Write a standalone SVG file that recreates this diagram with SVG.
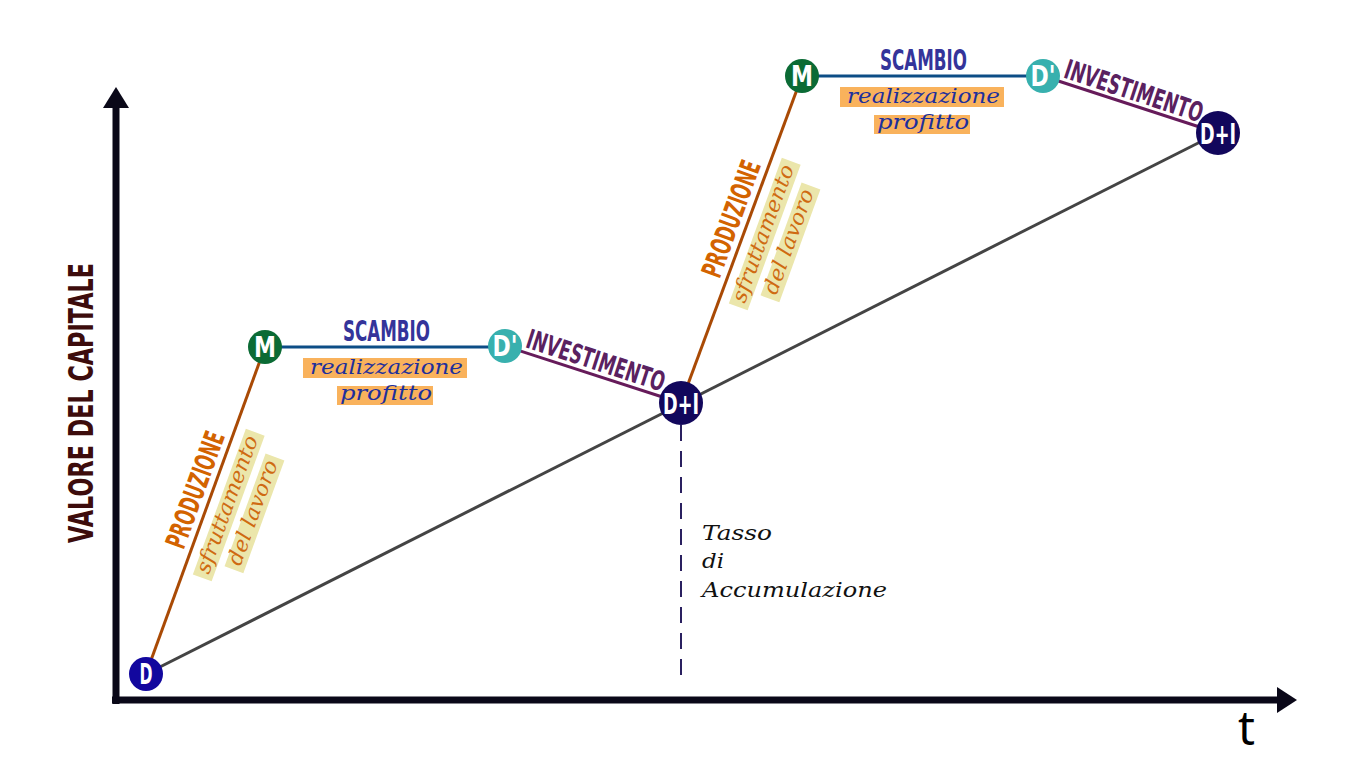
<svg xmlns="http://www.w3.org/2000/svg" width="1366" height="768" viewBox="0 0 1366 768">
<style>
.cond{font-family:"DejaVu Sans","Liberation Sans",sans-serif;font-weight:bold;}
.ital{font-family:"DejaVu Serif","Liberation Serif",serif;font-style:italic;}
.nlab{fill:#fff;font-size:28px;}
.prod{fill:#d36300;font-size:28px;}
.scam{fill:#34349a;font-size:28px;}
.inv{fill:#5a2160;font-size:27px;}
.sfr{fill:#cf6a12;font-size:21px;}
.sfrbox{fill:#ebe6ab;}
.real{fill:#1d2f9c;font-size:21px;}
.realbox{fill:#f9b25c;}
.brown{stroke:#a94a05;stroke-width:3;fill:none;}
.blue{stroke:#0c4d86;stroke-width:3;fill:none;}
.purple{stroke:#661b5a;stroke-width:3;fill:none;}
.gray{stroke:#444;stroke-width:3;fill:none;}
.axis{stroke:#0a0818;stroke-width:7;fill:none;}
</style>
<rect width="1366" height="768" fill="#fff"/>
<!-- axes -->
<g id="axes">
<line class="axis" x1="116" y1="704" x2="116" y2="105"/>
<polygon points="116,87 103,108 129,108" fill="#0a0818"/>
<line class="axis" x1="112" y1="700" x2="1279" y2="700"/>
<polygon points="1297,700 1277,687 1277,713" fill="#0a0818"/>
<text class="cond" transform="translate(93,543) rotate(-90)" x="0" y="0" font-size="34" fill="#3d0c0c" textLength="280" lengthAdjust="spacingAndGlyphs">VALORE DEL CAPITALE</text>
<text x="1238" y="745" font-family="Noto Sans, DejaVu Sans, sans-serif" font-size="47" fill="#000">t</text>
</g>
<!-- connectors -->
<g id="connectors">
<line class="gray" x1="146" y1="674" x2="1218" y2="133"/>
<line class="brown" x1="146" y1="674" x2="265" y2="347"/>
<line class="blue" x1="265" y1="347" x2="505" y2="347"/>
<line class="purple" x1="505" y1="346" x2="681" y2="403"/>
<line class="brown" x1="681" y1="403" x2="802" y2="76"/>
<line class="blue" x1="802" y1="76" x2="1043" y2="76"/>
<line class="purple" x1="1043" y1="76" x2="1218" y2="133"/>
<line x1="681" y1="425" x2="681" y2="678" stroke="#2a2060" stroke-width="2" stroke-dasharray="16 10"/>
</g>
<!-- labels -->
<g id="labels1">
<g transform="translate(146,674) rotate(-70)">
<text class="cond prod" x="129" y="-7" textLength="122" lengthAdjust="spacingAndGlyphs">PRODUZIONE</text>
<rect class="sfrbox" x="109.5" y="10" width="155" height="20"/>
<text class="ital sfr" x="114.5" y="25" textLength="145" lengthAdjust="spacingAndGlyphs">sfruttamento</text>
<rect class="sfrbox" x="128" y="37" width="120" height="20"/>
<text class="ital sfr" x="133" y="52" textLength="110" lengthAdjust="spacingAndGlyphs">del lavoro</text>
</g>
<text class="cond scam" x="343" y="341" textLength="87" lengthAdjust="spacingAndGlyphs">SCAMBIO</text>
<rect class="realbox" x="303" y="358" width="164" height="20"/>
<text class="ital real" x="310" y="374" textLength="153" lengthAdjust="spacingAndGlyphs">realizzazione</text>
<rect class="realbox" x="337" y="386" width="96" height="19"/>
<text class="ital real" x="340" y="400" textLength="92" lengthAdjust="spacingAndGlyphs">profitto</text>
<g transform="translate(505,346) rotate(18)">
<text class="cond inv" x="19" y="-5" textLength="144" lengthAdjust="spacingAndGlyphs">INVESTIMENTO</text>
</g>
</g>
<g id="labels2">
<g transform="translate(682,403) rotate(-70)">
<text class="cond prod" x="129" y="-7" textLength="122" lengthAdjust="spacingAndGlyphs">PRODUZIONE</text>
<rect class="sfrbox" x="109.5" y="10" width="155" height="20"/>
<text class="ital sfr" x="114.5" y="25" textLength="145" lengthAdjust="spacingAndGlyphs">sfruttamento</text>
<rect class="sfrbox" x="128" y="37" width="120" height="20"/>
<text class="ital sfr" x="133" y="52" textLength="110" lengthAdjust="spacingAndGlyphs">del lavoro</text>
</g>
<text class="cond scam" x="880" y="70" textLength="87" lengthAdjust="spacingAndGlyphs">SCAMBIO</text>
<rect class="realbox" x="840" y="87" width="164" height="20"/>
<text class="ital real" x="847" y="103" textLength="153" lengthAdjust="spacingAndGlyphs">realizzazione</text>
<rect class="realbox" x="874" y="115" width="96" height="19"/>
<text class="ital real" x="877" y="129" textLength="92" lengthAdjust="spacingAndGlyphs">profitto</text>
<g transform="translate(1043,76) rotate(18.3)">
<text class="cond inv" x="19" y="-5" textLength="144" lengthAdjust="spacingAndGlyphs">INVESTIMENTO</text>
</g>
</g>
<g id="tasso">
<text class="ital" x="702" y="540" font-size="21" fill="#111" textLength="70" lengthAdjust="spacingAndGlyphs">Tasso</text>
<text class="ital" x="702" y="568" font-size="21" fill="#111" textLength="22" lengthAdjust="spacingAndGlyphs">di</text>
<text class="ital" x="702" y="597" font-size="21" fill="#111" textLength="185" lengthAdjust="spacingAndGlyphs">Accumulazione</text>
</g>
<!-- nodes -->
<g id="node-D"><circle cx="146" cy="674" r="17" fill="#12079e"/><text class="cond nlab" x="139.5" y="684" textLength="13" lengthAdjust="spacingAndGlyphs">D</text></g>
<g id="node-M1"><circle cx="265" cy="347" r="17" fill="#0b6b35"/><text class="cond nlab" x="254" y="357" textLength="22" lengthAdjust="spacingAndGlyphs">M</text></g>
<g id="node-Dp1"><circle cx="505" cy="346" r="17" fill="#38b0ae"/><text class="cond nlab" x="492.5" y="356" textLength="25" lengthAdjust="spacingAndGlyphs">D'</text></g>
<g id="node-DI1"><circle cx="681" cy="403" r="22" fill="#12075c"/><text class="cond nlab" x="663" y="414" textLength="36" lengthAdjust="spacingAndGlyphs">D+I</text></g>
<g id="node-M2"><circle cx="802" cy="76" r="17" fill="#0b6b35"/><text class="cond nlab" x="791" y="86" textLength="22" lengthAdjust="spacingAndGlyphs">M</text></g>
<g id="node-Dp2"><circle cx="1043" cy="76" r="17" fill="#38b0ae"/><text class="cond nlab" x="1030.5" y="86" textLength="25" lengthAdjust="spacingAndGlyphs">D'</text></g>
<g id="node-DI2"><circle cx="1218" cy="133" r="22" fill="#12075c"/><text class="cond nlab" x="1200" y="144" textLength="36" lengthAdjust="spacingAndGlyphs">D+I</text></g>
</svg>
